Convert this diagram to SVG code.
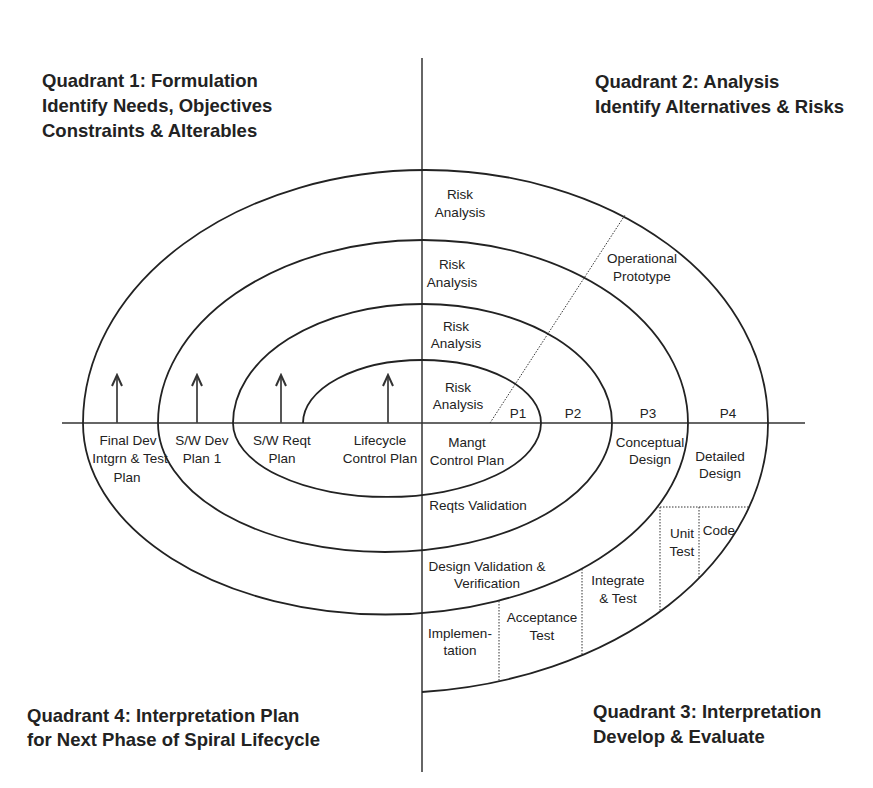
<svg xmlns="http://www.w3.org/2000/svg" width="873" height="788" viewBox="0 0 873 788">
<style>
.t{font-family:"Liberation Sans",Arial,sans-serif;font-weight:bold;font-size:18.5px;fill:#222}
.l{font-family:"Liberation Sans",Arial,sans-serif;font-size:13.5px;fill:#222;text-anchor:middle}
.ax{stroke:#333;stroke-width:1.5;fill:none}
.sp{stroke:#222;stroke-width:1.8;fill:none}
.dt{stroke:#333;stroke-width:1;stroke-dasharray:1.5 1.5;fill:none}
.ar{stroke:#444;stroke-width:1.8;fill:none}
</style>
<defs>
<marker id="chev" viewBox="0 0 14 12" refX="12" refY="6" markerWidth="14" markerHeight="12" markerUnits="userSpaceOnUse" orient="auto">
<polyline points="1,1 12,6 1,11" fill="none" stroke="#333" stroke-width="2"/>
</marker>
</defs>
<rect width="873" height="788" fill="#fff"/>
<g id="axes">
<line class="ax" x1="422" y1="58" x2="422" y2="772"/>
<line class="ax" x1="62" y1="423" x2="805" y2="423"/>
</g>
<g id="spiral">
<path class="sp" d="M303 423 A119 63 0 0 1 541 423 A154 74 0 0 1 233 423 A189.5 119 0 0 1 612 423 A227 129 0 0 1 158 423 A265 183 0 0 1 688 423 A302.5 191.5 0 0 1 83 423 A342.5 253 0 0 1 768 423 A380 270 0 0 1 422 692"/>
</g>
<g id="dividers">
<line class="dt" x1="490" y1="423" x2="625" y2="215"/>
<line class="dt" x1="499" y1="601" x2="499" y2="681"/>
<line class="dt" x1="582" y1="569" x2="582" y2="655"/>
<line class="dt" x1="657" y1="507" x2="749" y2="507"/>
<line class="dt" x1="660" y1="507" x2="660" y2="612"/>
<line class="dt" x1="699" y1="507" x2="699" y2="578"/>
</g>
<g id="connectors">
<line class="ar" x1="117" y1="423" x2="117" y2="375" marker-end="url(#chev)"/>
<line class="ar" x1="197" y1="423" x2="197" y2="375" marker-end="url(#chev)"/>
<line class="ar" x1="281" y1="423" x2="281" y2="375" marker-end="url(#chev)"/>
<line class="ar" x1="388" y1="423" x2="388" y2="375" marker-end="url(#chev)"/>
</g>
<g id="quadrant1"><text class="t" x="42" y="87">Quadrant 1: Formulation</text><text class="t" x="42" y="112">Identify Needs, Objectives</text><text class="t" x="42" y="137">Constraints &amp; Alterables</text></g>
<g id="quadrant2"><text class="t" x="595" y="88">Quadrant 2: Analysis</text><text class="t" x="595" y="113">Identify Alternatives &amp; Risks</text></g>
<g id="quadrant4"><text class="t" x="27" y="722">Quadrant 4: Interpretation Plan</text><text class="t" x="27" y="746">for Next Phase of Spiral Lifecycle</text></g>
<g id="quadrant3"><text class="t" x="593" y="718">Quadrant 3: Interpretation</text><text class="t" x="593" y="743">Develop &amp; Evaluate</text></g>
<g id="risk1"><text class="l" x="460" y="199">Risk</text><text class="l" x="460" y="217">Analysis</text></g>
<g id="risk2"><text class="l" x="452" y="269">Risk</text><text class="l" x="452" y="287">Analysis</text></g>
<g id="risk3"><text class="l" x="456" y="331">Risk</text><text class="l" x="456" y="348">Analysis</text></g>
<g id="risk4"><text class="l" x="458" y="392">Risk</text><text class="l" x="458" y="409">Analysis</text></g>
<g id="opproto"><text class="l" x="642" y="263">Operational</text><text class="l" x="642" y="281">Prototype</text></g>
<g id="p1"><text class="l" x="518" y="418">P1</text></g>
<g id="p2"><text class="l" x="573" y="418">P2</text></g>
<g id="p3"><text class="l" x="648" y="418">P3</text></g>
<g id="p4"><text class="l" x="728" y="418">P4</text></g>
<g id="mangt"><text class="l" x="467" y="447">Mangt</text><text class="l" x="467" y="465">Control Plan</text></g>
<g id="concept"><text class="l" x="650" y="447">Conceptual</text><text class="l" x="650" y="464">Design</text></g>
<g id="detailed"><text class="l" x="720" y="461">Detailed</text><text class="l" x="720" y="478">Design</text></g>
<g id="reqts"><text class="l" x="478" y="510">Reqts Validation</text></g>
<g id="designval"><text class="l" x="487" y="571">Design Validation &amp;</text><text class="l" x="487" y="588">Verification</text></g>
<g id="unittest"><text class="l" x="682" y="538">Unit</text><text class="l" x="682" y="556">Test</text></g>
<g id="code"><text class="l" x="719" y="535">Code</text></g>
<g id="integrate"><text class="l" x="618" y="585">Integrate</text><text class="l" x="618" y="603">&amp; Test</text></g>
<g id="acceptance"><text class="l" x="542" y="622">Acceptance</text><text class="l" x="542" y="640">Test</text></g>
<g id="implementation"><text class="l" x="460" y="638">Implemen-</text><text class="l" x="460" y="655">tation</text></g>
<g id="finaldev"><text class="l" x="128" y="445">Final Dev</text><text class="l" x="130" y="463">Intgrn &amp; Test</text><text class="l" x="127" y="482">Plan</text></g>
<g id="swdev"><text class="l" x="202" y="445">S/W Dev</text><text class="l" x="202" y="463">Plan 1</text></g>
<g id="swreqt"><text class="l" x="282" y="445">S/W Reqt</text><text class="l" x="282" y="463">Plan</text></g>
<g id="lifecycle"><text class="l" x="380" y="445">Lifecycle</text><text class="l" x="380" y="463">Control Plan</text></g>
</svg>
